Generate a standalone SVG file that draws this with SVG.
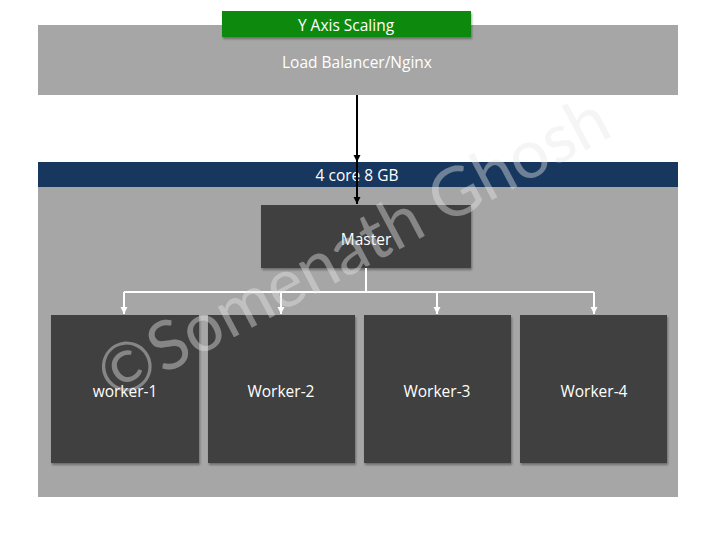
<svg xmlns="http://www.w3.org/2000/svg" width="720" height="540" viewBox="0 0 720 540">
<style>
  .lbl { font-family: "Open Sans", "Liberation Sans", sans-serif; font-size: 15.5px; fill: #ffffff; text-anchor: middle; dominant-baseline: central; }
  .gray { fill: #a6a6a6; }
  .dark { fill: #404040; filter: url(#sh); }
  .blk { stroke: #000000; stroke-width: 2; fill: none; marker-end: url(#ab); }
  .wht { stroke: #ffffff; stroke-width: 2; fill: none; }
  .whta { stroke: #ffffff; stroke-width: 2; fill: none; marker-end: url(#aw); }
  .wm { font-family: Lato, "Open Sans", sans-serif; font-weight: 400; font-size: 68px; fill: #e6e6e6; fill-opacity: 0.42; text-anchor: middle; }
</style>
<defs>
  <filter id="sh" x="-10%" y="-10%" width="130%" height="130%">
    <feDropShadow dx="1" dy="2" stdDeviation="1.2" flood-color="#000000" flood-opacity="0.35"/>
  </filter>
  <marker id="ab" markerWidth="8" markerHeight="8" refX="7" refY="4" orient="auto" markerUnits="userSpaceOnUse">
    <path d="M0,0.5 L7,4 L0,7.5 Z" fill="#000000"/>
  </marker>
  <marker id="aw" markerWidth="8" markerHeight="8" refX="7" refY="4" orient="auto" markerUnits="userSpaceOnUse">
    <path d="M0,0.5 L7,4 L0,7.5 Z" fill="#ffffff"/>
  </marker>
</defs>
<rect width="720" height="540" fill="#ffffff"/>

<g id="load-balancer">
  <rect class="gray" x="38" y="25" width="640" height="70"/>
  <text class="lbl" x="357" y="62">Load Balancer/Nginx</text>
</g>
<g id="y-axis-label">
  <rect x="222" y="11" width="249" height="26" fill="#078a07" filter="url(#sh)"/>
  <text class="lbl" x="346" y="25">Y Axis Scaling</text>
</g>

<g id="server">
  <rect class="gray" x="38" y="187" width="640" height="310"/>
  <rect x="38" y="162" width="640" height="25" fill="#17375e"/>
  <text class="lbl" x="357" y="175">4 core 8 GB</text>
</g>

<g id="master">
  <rect class="dark" x="261" y="205" width="210" height="63"/>
  <text class="lbl" x="366" y="239">Master</text>
</g>
<g id="worker-1">
  <rect class="dark" x="51" y="315" width="148" height="148"/>
  <text class="lbl" x="125" y="391">worker-1</text>
</g>
<g id="worker-2">
  <rect class="dark" x="208" y="315" width="147" height="148"/>
  <text class="lbl" x="281" y="391">Worker-2</text>
</g>
<g id="worker-3">
  <rect class="dark" x="364" y="315" width="147" height="148"/>
  <text class="lbl" x="437" y="391">Worker-3</text>
</g>
<g id="worker-4">
  <rect class="dark" x="520" y="315" width="147" height="148"/>
  <text class="lbl" x="594" y="391">Worker-4</text>
</g>

<g id="connectors">
  <line class="blk" x1="357" y1="95" x2="357" y2="162"/>
  <line class="blk" x1="357" y1="162" x2="357" y2="204"/>
  <path class="wht" d="M366,268 V292 M124,292 H594"/>
  <line class="whta" x1="124" y1="292" x2="124" y2="314"/>
  <line class="whta" x1="281" y1="292" x2="281" y2="314"/>
  <line class="whta" x1="437" y1="292" x2="437" y2="314"/>
  <line class="whta" x1="594" y1="292" x2="594" y2="314"/>
</g>

<text class="wm" transform="translate(364,268) rotate(-28)">©Somenath Ghosh</text>
</svg>
